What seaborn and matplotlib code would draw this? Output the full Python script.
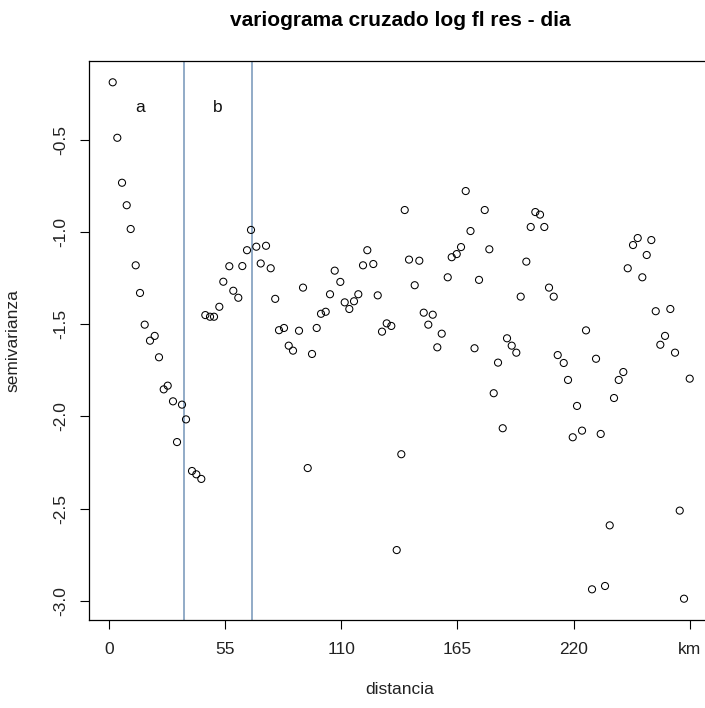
import matplotlib
matplotlib.use("Agg")
import matplotlib.pyplot as plt
import seaborn as sns
import pandas as pd

# Cross-variogram estimates: lag distance (km) and semivariance
distancia = [
    1.75, 3.93, 6.16, 8.38, 10.27, 12.64, 14.68, 16.90, 19.41, 21.64,
    23.67, 25.90, 27.79, 30.30, 32.20, 34.56, 36.46, 39.30, 41.34, 43.70,
    45.60, 47.82, 49.72, 52.23, 54.12, 56.96, 58.85, 61.22, 63.12, 65.34,
    67.23, 69.74, 71.83, 74.34, 76.56, 78.69, 80.49, 82.86, 85.09, 87.12,
    89.96, 91.86, 94.08, 96.12, 98.34, 100.38, 102.60, 104.64, 106.87, 109.52,
    111.60, 113.78, 116.00, 118.04, 120.27, 122.30, 125.14, 127.23, 129.26, 131.49,
    133.66, 136.22, 138.40, 140.01, 142.05, 144.74, 146.92, 149.01, 151.18, 153.27,
    155.44, 157.53, 160.37, 162.26, 164.63, 166.67, 168.89, 171.16, 173.06, 175.19,
    177.89, 180.07, 182.15, 184.19, 186.41, 188.45, 190.67, 192.85, 194.93, 197.59,
    199.67, 201.85, 204.07, 206.11, 208.33, 210.56, 212.45, 215.30, 217.33, 219.56,
    221.59, 223.96, 225.85, 228.69, 230.59, 232.81, 234.85, 237.07, 239.11, 241.34,
    243.51, 245.60, 248.11, 250.33, 252.51, 254.59, 256.77, 258.86, 261.03, 263.26,
    265.77, 267.99, 270.22, 272.25, 274.95,
]
semivarianza = [
    -0.187, -0.488, -0.732, -0.854, -0.983, -1.180, -1.330, -1.502, -1.589, -1.563,
    -1.679, -1.853, -1.833, -1.918, -2.139, -1.936, -2.016, -2.296, -2.314, -2.339,
    -1.450, -1.459, -1.459, -1.405, -1.269, -1.185, -1.318, -1.356, -1.184, -1.098,
    -0.988, -1.079, -1.170, -1.074, -1.196, -1.362, -1.532, -1.520, -1.616, -1.643,
    -1.535, -1.301, -2.280, -1.661, -1.520, -1.443, -1.432, -1.337, -1.209, -1.270,
    -1.381, -1.417, -1.375, -1.337, -1.180, -1.098, -1.173, -1.343, -1.540, -1.495,
    -1.509, -2.725, -2.205, -0.880, -1.149, -1.288, -1.155, -1.437, -1.502, -1.448,
    -1.625, -1.551, -1.245, -1.136, -1.119, -1.081, -0.777, -0.994, -1.630, -1.259,
    -0.880, -1.093, -1.874, -1.708, -2.064, -1.576, -1.616, -1.654, -1.350, -1.160,
    -0.972, -0.891, -0.905, -0.972, -1.301, -1.350, -1.667, -1.710, -1.802, -2.113,
    -1.943, -2.077, -1.533, -2.938, -1.687, -2.095, -2.920, -2.591, -1.900, -1.802,
    -1.759, -1.196, -1.070, -1.032, -1.245, -1.124, -1.043, -1.429, -1.611, -1.563,
    -1.417, -1.654, -2.511, -2.989, -1.795,
]

# Range boundaries drawn as vertical reference lines, with their labels
cortes = [35.5, 67.9]
etiquetas_tramo = ["a", "b"]
etiquetas_x = [14.7, 51.5]

x_ticks = [0, 55, 110, 165, 220, 275]
x_tick_labels = ["0", "55", "110", "165", "220", "km"]
y_ticks = [-0.5, -1.0, -1.5, -2.0, -2.5, -3.0]
y_tick_labels = ["-0.5", "-1.0", "-1.5", "-2.0", "-2.5", "-3.0"]

sns.set_style("white")
plt.rcParams["font.family"] = ["Liberation Sans", "DejaVu Sans"]

W, H = 705, 708
fig = plt.figure(figsize=(W / 100, H / 100), dpi=100)
left_px, right_px, top_px, bottom_px = 89.3, 712, 61, 620
ax = fig.add_axes([left_px / W, (H - bottom_px) / H,
                   (right_px - left_px) / W, (bottom_px - top_px) / H])

df = pd.DataFrame({"distancia": distancia, "semivarianza": semivarianza})
sns.scatterplot(data=df, x="distancia", y="semivarianza", ax=ax,
                marker="o", s=26, facecolor="none", edgecolor="black",
                linewidth=0.75, zorder=3)

for c in cortes:
    ax.axvline(c, color="#7f9dbd", linewidth=1.2, zorder=2)
for lx, lab in zip(etiquetas_x, etiquetas_tramo):
    ax.text(lx, -0.326, lab, ha="center", va="center", fontsize=12.5, color="#111111")

ax.set_xlim(-9.33, 285.5)
ax.set_ylim(-3.1045, -0.0714)

ax.set_xticks(x_ticks)
ax.set_xticklabels(x_tick_labels)
ax.set_yticks(y_ticks)
ax.set_yticklabels(y_tick_labels, rotation=90, va="center")

for sp in ax.spines.values():
    sp.set_color("black")
    sp.set_linewidth(0.9)

ax.tick_params(axis="both", which="major", direction="out", length=6.5,
               width=0.8, color="black", labelsize=12.5, labelcolor="#222222",
               left=True, bottom=True)
ax.tick_params(axis="x", pad=9)
ax.tick_params(axis="y", pad=9)

ax.set_xlabel("distancia", fontsize=12.5, color="#222222")
ax.set_ylabel("semivarianza", fontsize=12.5, color="#222222")
ax.xaxis.set_label_coords((400 - left_px) / (right_px - left_px),
                          -(682 - bottom_px) / (bottom_px - top_px))
ax.yaxis.set_label_coords(-(left_px - 20) / (right_px - left_px), 0.5)

fig.text(400 / W, 1 - 20 / H, "variograma cruzado log fl res - dia",
         ha="center", va="center", fontsize=15, fontweight="bold", color="black")

fig.savefig("out.png", dpi=100)
